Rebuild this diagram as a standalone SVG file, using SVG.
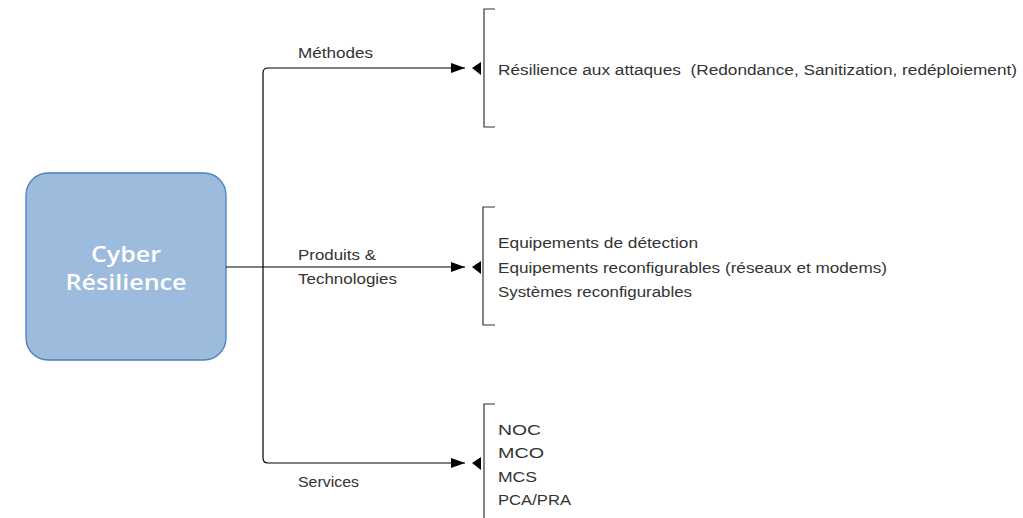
<svg xmlns="http://www.w3.org/2000/svg" width="1023" height="518" viewBox="0 0 1023 518">
<style>
.lbl{font-family:"Liberation Sans",Arial,sans-serif;font-size:15.5px;fill:#333}
.ctr{font-family:"Open Sans","Liberation Sans",sans-serif;font-weight:600;font-size:22px;fill:#fff}
.conn{fill:none;stroke:#000;stroke-width:1.2}
.br{fill:none;stroke:#333;stroke-width:1.2}
.tri{fill:#000}
</style>
<defs>
<marker id="arr" markerWidth="15" markerHeight="11" refX="14" refY="5.5" orient="auto" markerUnits="userSpaceOnUse">
<path d="M0,0.5 L14,5.5 L0,10.5 Z" fill="#000"/>
</marker>
</defs>
<rect width="1023" height="518" fill="#fff"/>
<g id="center">
<rect x="26" y="173" width="200" height="187" rx="22" fill="#9dbbdd" stroke="#4a7fc0" stroke-width="1.3"/>
<text class="ctr" x="126" y="262" text-anchor="middle" textLength="70" lengthAdjust="spacingAndGlyphs">Cyber</text>
<text class="ctr" x="126" y="290" text-anchor="middle" textLength="121" lengthAdjust="spacingAndGlyphs">Résilience</text>
</g>
<g id="connectors">
<path class="conn" d="M263,267 L263,73 Q263,68 268,68 L465,68" marker-end="url(#arr)"/>
<path class="conn" d="M226,267 L465,267" marker-end="url(#arr)"/>
<path class="conn" d="M263,267 L263,458 Q263,463 268,463 L465,463" marker-end="url(#arr)"/>
<text class="lbl" x="298" y="58" textLength="75" lengthAdjust="spacingAndGlyphs">Méthodes</text>
<text class="lbl" x="298" y="260" textLength="78" lengthAdjust="spacingAndGlyphs">Produits &amp;</text>
<text class="lbl" x="298" y="284" textLength="99" lengthAdjust="spacingAndGlyphs">Technologies</text>
<text class="lbl" x="298" y="487" textLength="61" lengthAdjust="spacingAndGlyphs">Services</text>
</g>
<g id="methodes">
<path class="br" d="M495,9 L484,9 L484,127 L495,127"/>
<path class="tri" d="M481,62 L472,68 L481,75 Z"/>
<text class="lbl" x="498" y="75" xml:space="preserve" style="white-space:pre" textLength="519" lengthAdjust="spacingAndGlyphs">Résilience aux attaques  (Redondance, Sanitization, redéploiement)</text>
</g>
<g id="produits">
<path class="br" d="M495,207 L483,207 L483,325 L495,325"/>
<path class="tri" d="M481,261 L472,267 L481,274 Z"/>
<text class="lbl" x="498" y="248" textLength="200" lengthAdjust="spacingAndGlyphs">Equipements de détection</text>
<text class="lbl" x="498" y="273" textLength="389" lengthAdjust="spacingAndGlyphs">Equipements reconfigurables (réseaux et modems)</text>
<text class="lbl" x="498" y="297" textLength="194" lengthAdjust="spacingAndGlyphs">Systèmes reconfigurables</text>
</g>
<g id="services">
<path class="br" d="M495,404 L484,404 L484,518"/>
<path class="tri" d="M481,457 L472,463 L481,470 Z"/>
<text class="lbl" x="498" y="435" textLength="43" lengthAdjust="spacingAndGlyphs">NOC</text>
<text class="lbl" x="498" y="458" textLength="46" lengthAdjust="spacingAndGlyphs">MCO</text>
<text class="lbl" x="498" y="482" textLength="39" lengthAdjust="spacingAndGlyphs">MCS</text>
<text class="lbl" x="498" y="505" textLength="73" lengthAdjust="spacingAndGlyphs">PCA/PRA</text>
</g>
</svg>
